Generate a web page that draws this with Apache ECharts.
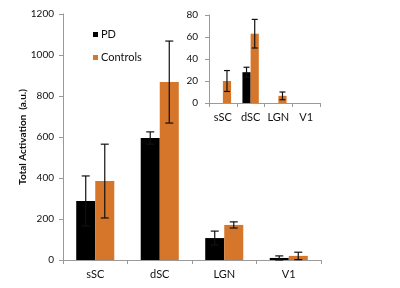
<!DOCTYPE html>
<html>
<head>
<meta charset="utf-8">
<script src="https://cdn.jsdelivr.net/npm/echarts@6/dist/echarts.min.js"></script>
<style>
  html, body { margin: 0; padding: 0; background: #fff; }
  #chart { width: 400px; height: 288px; }
</style>
</head>
<body>
<div id="chart"></div>
<script>
let categories = ['sSC', 'dSC', 'LGN', 'V1']

// main panel
let pdValues = [288, 595, 107, 10]
let pdErrors = [122, 30, 34, 10]
let ctrlValues = [385, 868, 171, 20]
let ctrlErrors = [180, 200, 15, 18]
let mainTicks = [0, 200, 400, 600, 800, 1000, 1200]

// inset panel
let insetPdValues = [0, 28, 0, 0]
let insetPdErrors = [0, 4.5, 0, 0]
let insetCtrlValues = [20, 63, 6.5, 0]
let insetCtrlErrors = [9.5, 13, 3.5, 0]
let insetTicks = [0, 20, 40, 60, 80]

let orange = '#D5762A'
let font = 'Lato, "Open Sans", sans-serif'
let gapPct = 0.41

function errData(values, errors) {
    let out = []
    for (let i in values) {
        out.push([parseInt(i), values[i] - errors[i], values[i] + errors[i], errors[i]])
    }
    return out
}

function errSeries(values, errors, axisIdx, side, cap) {
    return {
        type: 'custom',
        xAxisIndex: axisIdx,
        yAxisIndex: axisIdx,
        z: 5,
        silent: true,
        data: errData(values, errors),
        renderItem: function (params, api) {
            if (api.value(3) === 0) return
            let band = api.size([1, 0])[0]
            let barW = band * (1 - gapPct) / 2
            let lo = api.coord([api.value(0), api.value(1)])
            let hi = api.coord([api.value(0), api.value(2)])
            let x = lo[0] + side * barW / 2
            let style = { stroke: '#111', lineWidth: 1.2 }
            return {
                type: 'group',
                children: [
                    { type: 'line', shape: { x1: x, y1: lo[1], x2: x, y2: hi[1] }, style: style },
                    { type: 'line', shape: { x1: x - cap, y1: hi[1], x2: x + cap, y2: hi[1] }, style: style },
                    { type: 'line', shape: { x1: x - cap, y1: lo[1], x2: x + cap, y2: lo[1] }, style: style }
                ]
            }
        }
    }
}

function xAxisFor(gridIndex, margin) {
    return {
        type: 'category',
        gridIndex: gridIndex,
        data: categories,
        axisLine: { lineStyle: { color: '#9a9a9a', width: 1 } },
        axisTick: { show: true, length: 4, lineStyle: { color: '#9a9a9a' } },
        axisLabel: { color: '#111', fontSize: 11, fontFamily: font, margin: margin, interval: 0 }
    }
}

function yAxisFor(gridIndex, ticks, margin) {
    return {
        type: 'value',
        gridIndex: gridIndex,
        min: ticks[0],
        max: ticks[ticks.length - 1],
        interval: ticks[1] - ticks[0],
        axisLine: { show: true, lineStyle: { color: '#9a9a9a', width: 1 } },
        axisTick: { show: true, length: 4, lineStyle: { color: '#9a9a9a' } },
        splitLine: { show: false },
        axisLabel: {
            color: '#111', fontSize: 10, fontFamily: font, margin: margin,
            formatter: function (v) { return String(v) }
        }
    }
}

let chart = echarts.init(document.getElementById('chart'), null, { renderer: 'canvas' })
let option = {
    animation: false,
    backgroundColor: '#fff',
    legend: {
        data: ['PD', 'Controls'],
        orient: 'vertical',
        left: 88,
        top: 24,
        itemWidth: 5,
        itemHeight: 5,
        itemGap: 12,
        icon: 'rect',
        textStyle: { color: '#111', fontSize: 11, fontFamily: font, padding: [0, 0, 0, -2] }
    },
    grid: [
        { left: 63, top: 14, right: 79, bottom: 28 },
        { left: 209, top: 15, right: 80, bottom: 185 }
    ],
    xAxis: [xAxisFor(0, 9), xAxisFor(1, 9)],
    yAxis: [
        Object.assign(yAxisFor(0, mainTicks, 9), {
            name: 'Total Activation  (a.u.)',
            nameLocation: 'middle',
            nameGap: 35,
            nameMoveOverlap: false,
            nameTextStyle: { color: '#111', fontSize: 10, fontWeight: 'bold', fontFamily: font }
        }),
        yAxisFor(1, insetTicks, 11)
    ],
    series: [
        { name: 'PD', type: 'bar', xAxisIndex: 0, yAxisIndex: 0, data: pdValues,
          itemStyle: { color: '#000' }, barGap: '0%', barCategoryGap: (gapPct * 100) + '%' },
        { name: 'Controls', type: 'bar', xAxisIndex: 0, yAxisIndex: 0, data: ctrlValues,
          itemStyle: { color: orange }, barGap: '0%', barCategoryGap: (gapPct * 100) + '%' },
        { name: 'PD', type: 'bar', xAxisIndex: 1, yAxisIndex: 1, data: insetPdValues,
          itemStyle: { color: '#000' }, barGap: '0%', barCategoryGap: (gapPct * 100) + '%' },
        { name: 'Controls', type: 'bar', xAxisIndex: 1, yAxisIndex: 1, data: insetCtrlValues,
          itemStyle: { color: orange }, barGap: '0%', barCategoryGap: (gapPct * 100) + '%' },
        errSeries(pdValues, pdErrors, 0, -1, 4),
        errSeries(ctrlValues, ctrlErrors, 0, 1, 4),
        errSeries(insetPdValues, insetPdErrors, 1, -1, 3),
        errSeries(insetCtrlValues, insetCtrlErrors, 1, 1, 3)
    ]
}
chart.setOption(option)
</script>
</body>
</html>
